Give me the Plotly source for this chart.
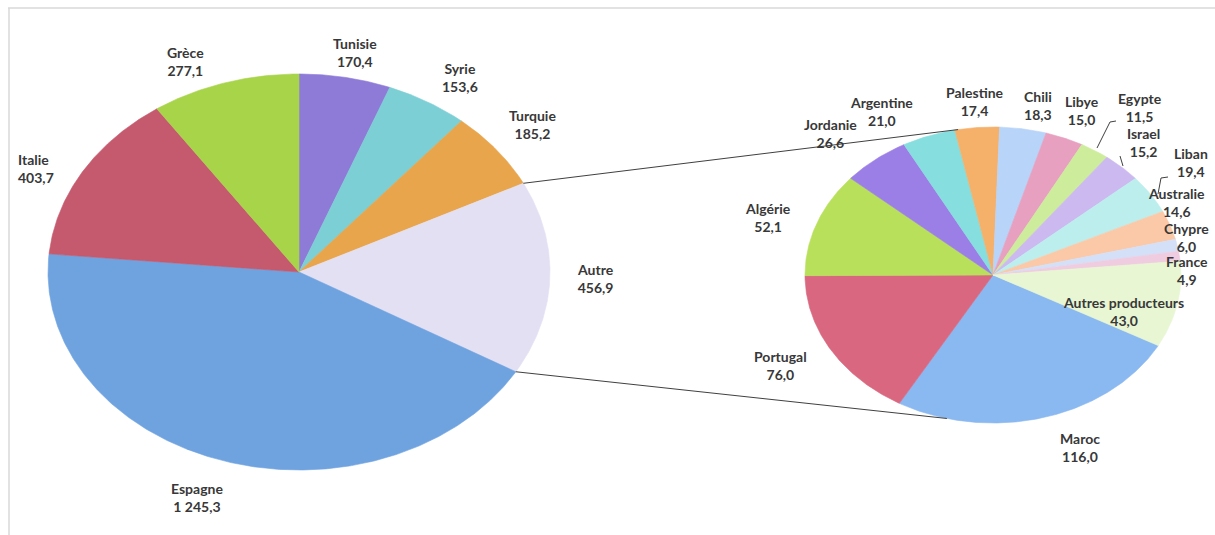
import numpy as np
import plotly.graph_objects as go

# ---------------- data ----------------
main_labels = ["Tunisie", "Syrie", "Turquie", "Autre", "Espagne", "Italie", "Grèce"]
main_values = [170.4, 153.6, 185.2, 456.9, 1245.3, 403.7, 277.1]
main_colors = ["#8e7bd8", "#7ccfd4", "#e8a54c", "#e4e0f4", "#6fa3e0", "#c55a6e", "#a8d44a"]

sub_labels = ["Maroc", "Portugal", "Algérie", "Jordanie", "Argentine", "Palestine", "Chili",
              "Libye", "Egypte", "Israel", "Liban", "Australie", "Chypre", "France",
              "Autres producteurs"]
sub_values = [116.0, 76.0, 52.1, 26.6, 21.0, 17.4, 18.3, 15.0, 11.5, 15.2, 19.4, 14.6,
              6.0, 4.9, 43.0]
sub_colors = ["#8ab8f0", "#d9677f", "#b9e05a", "#9b7ee6", "#86dede", "#f5b06a", "#b8d4f8",
              "#e8a0c0", "#cdec9c", "#cbb9f0", "#bdeeee", "#fbc9a8", "#d4e0f8", "#f0cce0",
              "#e8f6d4"]

# ---------------- layout parameters ----------------
W, H = 1215, 535
MAIN = dict(cx=299, cy=272, rx=251, ry=198, start=0.0)
SUB = dict(cx=993, cy=275, rx=188, ry=148, start=118.5)
SUB_CONNECT_ANGLES = (-10.7, 194.2)  # where connectors meet the secondary pie
EXPLODED = "Autre"

main_label_pos = {
    "Grèce": (185, 61, "center"), "Tunisie": (355, 52, "center"), "Syrie": (460, 77, "center"),
    "Turquie": (532, 124, "center"), "Autre": (595, 278, "center"),
    "Espagne": (197, 497, "center"), "Italie": (16, 168, "left"),
}
sub_label_pos = {
    "Argentine": (881, 111), "Palestine": (975, 101), "Chili": (1038, 105),
    "Libye": (1082, 110), "Egypte": (1140, 107), "Israel": (1143, 142),
    "Liban": (1191, 162), "Australie": (1176, 202), "Chypre": (1186, 237),
    "France": (1187, 270), "Autres producteurs": (1123, 311), "Jordanie": (830, 133),
    "Algérie": (768, 217), "Portugal": (780, 365), "Maroc": (1080, 447),
}
leaders = [
    [(1116, 121), (1110, 122), (1097, 148)],
    [(1120, 156), (1123, 166)],
    [(1168, 177), (1161, 178), (1158, 194)],
]

FONT = dict(family="Lato, Open Sans, sans-serif", size=14, color="#383838")


def fr(v):
    return f"{v:,.1f}".replace(",", " ").replace(".", ",")


def ellipse_pt(p, ang):
    t = np.radians(ang)
    return p["cx"] + p["rx"] * np.sin(t), p["cy"] - p["ry"] * np.cos(t)


def slices(p, values):
    total = float(sum(values))
    out = []
    a = p["start"]
    for v in values:
        span = 360.0 * v / total
        out.append((a, a + span))
        a += span
    return out


def slice_xy(p, a0, a1):
    n = max(4, int(abs(a1 - a0) * 2))
    th = np.linspace(a0, a1, n)
    xs, ys = ellipse_pt(p, th)
    return (np.concatenate([[p["cx"]], xs, [p["cx"]]]),
            np.concatenate([[p["cy"]], ys, [p["cy"]]]))


fig = go.Figure()

for p, labels, values, colors in [(MAIN, main_labels, main_values, main_colors),
                                  (SUB, sub_labels, sub_values, sub_colors)]:
    for (a0, a1), lab, val, col in zip(slices(p, values), labels, values, colors):
        xs, ys = slice_xy(p, a0, a1)
        fig.add_trace(go.Scatter(x=xs, y=ys, mode="lines", fill="toself", fillcolor=col,
                                 line=dict(color=col, width=0.6), name=lab,
                                 hoveron="fills", text=f"{lab} {fr(val)}", hoverinfo="text",
                                 showlegend=False))

# connector lines from the exploded slice to the secondary pie
main_sl = slices(MAIN, main_values)
ia = main_labels.index(EXPLODED)
p_top = ellipse_pt(MAIN, main_sl[ia][0])
p_bot = ellipse_pt(MAIN, main_sl[ia][1])
q_top = ellipse_pt(SUB, SUB_CONNECT_ANGLES[0])
q_bot = ellipse_pt(SUB, SUB_CONNECT_ANGLES[1])
for a, b in [(p_top, q_top), (p_bot, q_bot)]:
    fig.add_trace(go.Scatter(x=[a[0], b[0]], y=[a[1], b[1]], mode="lines",
                             line=dict(color="#404040", width=1), hoverinfo="skip",
                             showlegend=False))

for pts in leaders:
    fig.add_trace(go.Scatter(x=[q[0] for q in pts], y=[q[1] for q in pts], mode="lines",
                             line=dict(color="#404040", width=1), hoverinfo="skip",
                             showlegend=False))

annotations = []
for lab, val in zip(main_labels, main_values):
    x, y, al = main_label_pos[lab]
    annotations.append(dict(x=x, y=y, text=f"<b>{lab}<br>{fr(val)}</b>", showarrow=False,
                            xanchor=al, yanchor="middle", align=al, font=FONT))
for lab, val in zip(sub_labels, sub_values):
    x, y = sub_label_pos[lab]
    annotations.append(dict(x=x, y=y, text=f"<b>{lab}<br>{fr(val)}</b>", showarrow=False,
                            xanchor="center", yanchor="middle", align="center", font=FONT))

shapes = [
    dict(type="line", x0=8, x1=W, y0=8, y1=8, line=dict(color="#d9d9d9", width=1.5)),
    dict(type="line", x0=9, x1=9, y0=8, y1=H, line=dict(color="#d9d9d9", width=1.5)),
]

fig.update_layout(
    width=W, height=H, margin=dict(l=0, r=0, t=0, b=0),
    paper_bgcolor="white", plot_bgcolor="white",
    xaxis=dict(range=[0, W], visible=False, fixedrange=True),
    yaxis=dict(range=[H, 0], visible=False, fixedrange=True),
    annotations=annotations, shapes=shapes, showlegend=False,
)

fig.write_html("out.html", config={"displayModeBar": False},
               post_script="document.body.style.margin='0px';document.body.style.overflow='hidden';")
